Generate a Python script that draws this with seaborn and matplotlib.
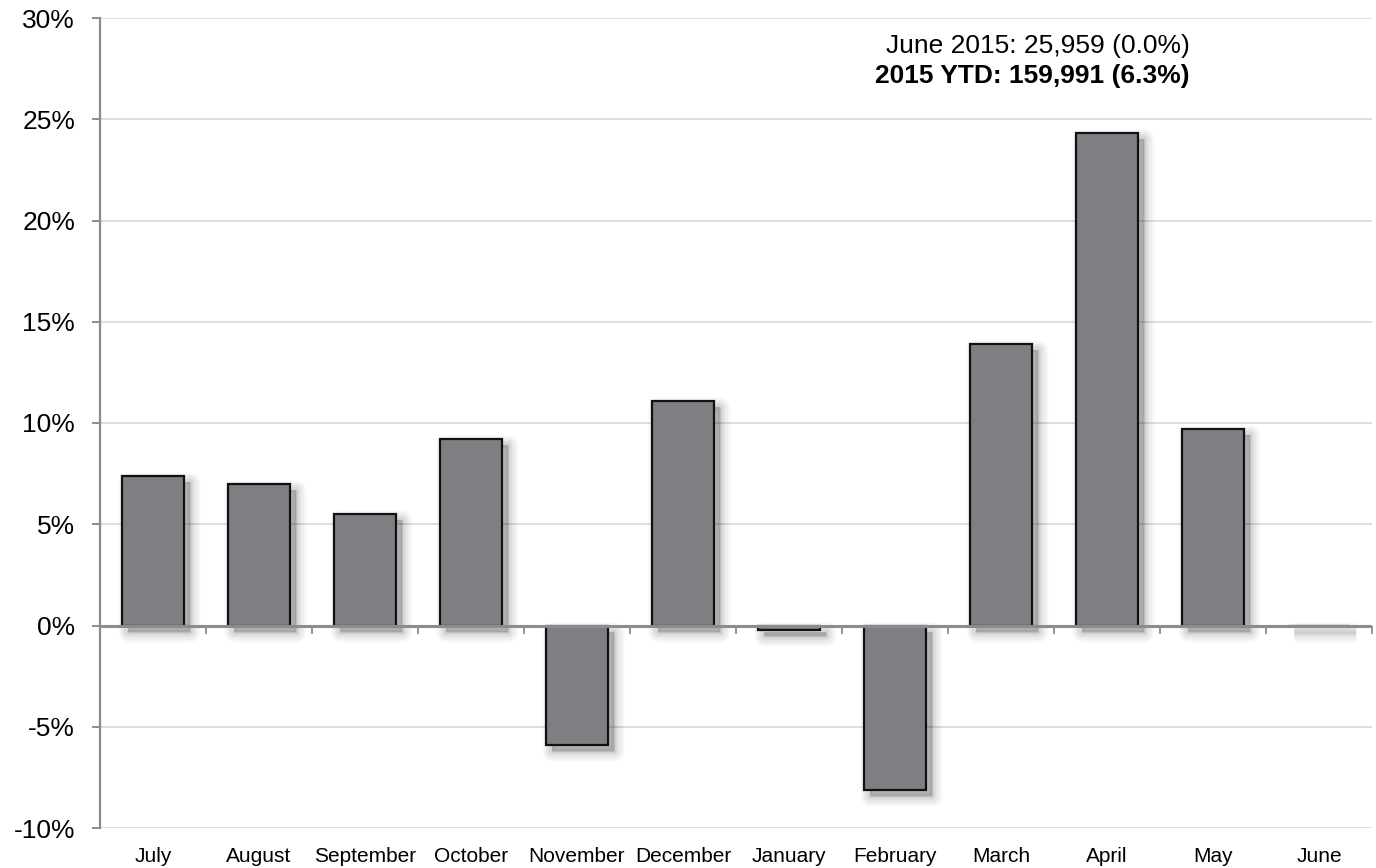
import matplotlib
matplotlib.use("Agg")
import matplotlib.pyplot as plt
import matplotlib.transforms as mtransforms
from matplotlib.patches import Rectangle
from matplotlib.ticker import FuncFormatter, MultipleLocator
import seaborn as sns
import pandas as pd

# Monthly year-over-year change (%), July 2014 - June 2015
months = ["July", "August", "September", "October", "November", "December",
          "January", "February", "March", "April", "May", "June"]
pct_change = [7.4, 7.0, 5.5, 9.2, -5.9, 11.1, -0.2, -8.1, 13.9, 24.3, 9.7, 0.0]

headline = "June 2015: 25,959 (0.0%)"
ytd_line = "2015 YTD: 159,991 (6.3%)"

sns.set_theme(style="white")
plt.rcParams["font.family"] = ["Liberation Sans", "DejaVu Sans"]

fig = plt.figure(figsize=(13.76, 8.68), dpi=100)
ax = fig.add_axes([100 / 1376, 40 / 868, 1272 / 1376, 810 / 868])

df = pd.DataFrame({"month": months, "change": pct_change})
sns.barplot(data=df, x="month", y="change", color="#7f7e83", saturation=1,
            width=0.58, edgecolor="#111111", linewidth=1.6, ax=ax)

# soft drop shadow behind each bar
shadow_tf = mtransforms.offset_copy(ax.transData, fig=fig, x=6, y=-6, units="dots")
for p in list(ax.patches):
    p.set_zorder(2)
    x0, y0 = p.get_x(), p.get_y()
    w, h = p.get_width(), p.get_height()
    for lw in [14, 11, 8.5, 6, 4, 2, 0.5]:
        ax.add_patch(Rectangle((x0, y0), w, h, transform=shadow_tf,
                               facecolor="black", edgecolor="black", lw=lw,
                               alpha=0.032, joinstyle="round", zorder=1.5))

ax.set_ylim(-10, 30)
ax.set_xlim(-0.5, len(months) - 0.5)
ax.yaxis.set_major_locator(MultipleLocator(5))
ax.yaxis.set_major_formatter(FuncFormatter(lambda v, _: f"{v:.0f}%"))

ax.grid(axis="y", color="#d4d4d4", lw=1.1)
ax.grid(axis="x", visible=False)
ax.set_axisbelow(True)

for side in ["top", "right", "bottom"]:
    ax.spines[side].set_visible(False)
ax.spines["left"].set_color("#8c8c8c")
ax.spines["left"].set_linewidth(1.6)

# zero baseline with category separator ticks
ax.axhline(0, color="#8c8c8c", lw=2.2, zorder=3)
seps = [i + 0.5 for i in range(len(months))]
ax.plot(seps, [0] * len(seps), ls="none", marker=3, ms=6, mew=1.3,
        color="#8c8c8c", zorder=3, clip_on=False)

ax.tick_params(axis="y", length=6, width=1.4, color="#8c8c8c", pad=12,
               labelsize=19, labelcolor="black", left=True)
ax.tick_params(axis="x", length=0, pad=14, labelsize=15, labelcolor="black")
ax.set_xlabel("")
ax.set_ylabel("")

ax.text(0.857, 0.965, headline, transform=ax.transAxes, ha="right",
        va="center", fontsize=19, color="black")
ax.text(0.857, 0.928, ytd_line, transform=ax.transAxes, ha="right",
        va="center", fontsize=19, fontweight="bold", color="black")

fig.savefig("out.png", dpi=100)
